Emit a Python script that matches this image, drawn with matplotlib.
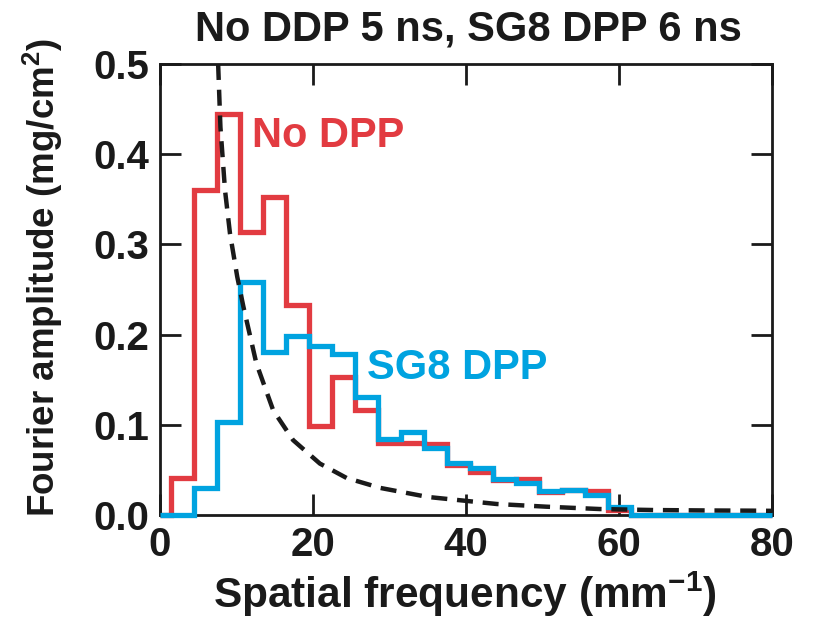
import numpy as np
import matplotlib.pyplot as plt

plt.rcParams['font.family'] = ['Liberation Sans', 'DejaVu Sans']
plt.rcParams['font.weight'] = 'bold'
plt.rcParams['mathtext.fontset'] = 'custom'
plt.rcParams['mathtext.rm'] = 'Liberation Sans:bold'
plt.rcParams['mathtext.bf'] = 'Liberation Sans:bold'
plt.rcParams['mathtext.default'] = 'bf'

# bin edges of the spectra (mm^-1), with empty bins at both ends
freq_edges = [0, 1.5, 4.5, 7.5, 10.5, 13.5, 16.5, 19.5, 22.5, 25.5, 28.5, 31.5,
              34.5, 37.5, 40.5, 43.5, 46.5, 49.5, 52.5, 55.5, 58.5, 61.5, 80]

no_dpp = [0, 0.041, 0.360, 0.445, 0.314, 0.352, 0.233, 0.099, 0.153, 0.116, 0.080,
          0.080, 0.079, 0.055, 0.048, 0.039, 0.040, 0.026, 0.028, 0.027, 0.006, 0]
sg8_dpp = [0, 0, 0.030, 0.103, 0.258, 0.181, 0.198, 0.187, 0.179, 0.131, 0.084,
           0.092, 0.074, 0.058, 0.052, 0.040, 0.036, 0.027, 0.028, 0.022, 0.009, 0]

# dashed reference curve
curve_x = [7.6, 7.9, 8.5, 9.15, 10.1, 10.9, 12.6, 14.8, 17.4, 20.9, 24.4, 28.8,
           35.0, 44.0, 50.5, 57.5, 64.5, 72.0, 77.5, 80.0]
curve_y = [0.500, 0.430, 0.360, 0.312, 0.264, 0.231, 0.168, 0.116, 0.083, 0.057,
           0.041, 0.030, 0.020, 0.0122, 0.0092, 0.0066, 0.0055, 0.0050, 0.0048, 0.0046]

red = '#E23B41'
blue = '#00A3E0'
ink = '#1a1a1a'

fig = plt.figure(figsize=(8.15, 6.21), dpi=100)
ax = fig.add_axes([0.1963, 0.1707, 0.7510, 0.7263])

ax.stairs(no_dpp, freq_edges, color=red, lw=3.8, baseline=None, clip_on=False, zorder=2)
ax.stairs(sg8_dpp, freq_edges, color=blue, lw=3.8, baseline=None, clip_on=False, zorder=3)
line, = ax.plot(curve_x, curve_y, color=ink, lw=3.2, zorder=4)
line.set_dashes((3.6, 2.2))

ax.text(12.0, 0.42, 'No DPP', color=red, fontsize=30, fontweight='bold', va='center')
ax.text(27.0, 0.163, 'SG8 DPP', color=blue, fontsize=30, fontweight='bold', va='center')

ax.set_xlim(0, 80)
ax.set_ylim(0, 0.5)
ax.set_xticks([0, 20, 40, 60, 80])
ax.set_yticks([0, 0.1, 0.2, 0.3, 0.4, 0.5])
ax.set_yticklabels(['0.0', '0.1', '0.2', '0.3', '0.4', '0.5'])
ax.tick_params(direction='in', length=15, width=2, top=True, right=True,
               labelsize=29, pad=8, colors=ink)
for s in ax.spines.values():
    s.set_linewidth(2)
    s.set_color(ink)

fig.text(0.571, 0.043, 'Spatial frequency (mm$^{-1}$)', ha='center', va='center',
         fontsize=30.5, fontweight='bold', color=ink)
fig.text(0.053, 0.553, 'Fourier amplitude (mg/cm$^{2}$)', ha='center', va='center',
         rotation=90, fontsize=26.5, fontweight='bold', color=ink)
fig.text(0.575, 0.953, 'No DDP 5 ns, SG8 DPP 6 ns', ha='center', va='center',
         fontsize=30, fontweight='bold', color=ink)

fig.savefig('out.png', dpi=100)
plt.close(fig)
